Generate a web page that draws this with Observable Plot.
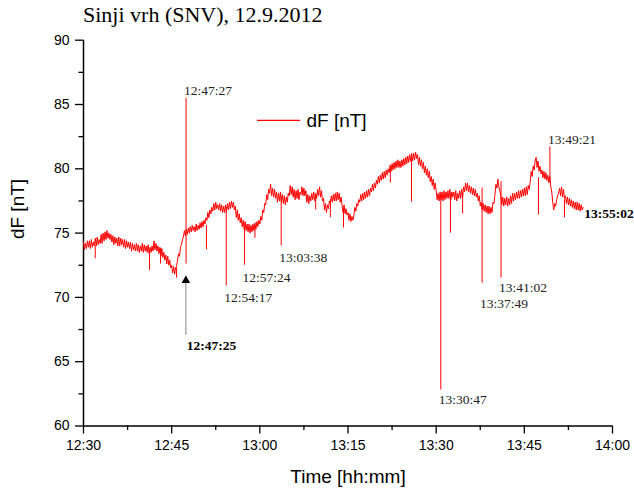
<!DOCTYPE html>
<html><head><meta charset="utf-8">
<script src="https://cdn.jsdelivr.net/npm/d3@7"></script>
<script src="https://cdn.jsdelivr.net/npm/@observablehq/plot@0.6"></script>
<style>
body{margin:0;background:#fff;}
#title{font-family:"Liberation Serif",serif;font-size:22px;height:30px;line-height:30px;padding-left:83px;white-space:nowrap;color:#000;}
#chart{height:459px;}
</style></head><body>
<div id="title">Sinji vrh (SNV), 12.9.2012</div>
<div id="chart"></div>
<script>
// ---- data ----
const seriesStart = "12:30:00";
const sampleStepSeconds = 10;
const dF = [
 74.3,73.7,74.2,73.8,74.4,73.9, 74.4,73.8,74.5,73.9,74.3,74.0, 74.6,74.0,74.7,74.1,74.5,74.2,
 74.9,74.2,75.0,74.4,75.1,74.5, 75.2,74.6,75.0,74.5,74.9,74.3, 74.8,74.1,74.7,74.2,74.6,74.0,
 74.7,74.0,74.6,74.1,74.5,73.9, 74.5,73.8,74.4,73.9,74.3,73.8, 74.3,73.6,74.2,73.7,74.1,73.6,
 74.2,73.6,74.1,73.5,74.0,73.6, 74.2,73.5,74.1,73.6,74.0,73.5, 74.1,73.4,73.9,73.5,74.0,73.6,
 74.4,73.7,74.2,73.6,74.0,73.4, 73.9,73.2,73.8,73.1,73.5,72.9, 73.3,72.6,73.2,72.5,72.9,72.3,
 72.5,71.9,72.4,71.8,72.3,72.4, 72.9,73.4,73.2,73.9,74.1,74.5, 74.7,75.2,74.8,75.3,74.9,75.4,
 75.0,75.5,75.1,75.6,75.2,75.5, 75.1,75.7,75.2,75.6,75.3,75.8, 75.4,75.9,75.5,76.0,75.7,76.2,
 76.0,76.6,76.2,76.8,76.5,77.0, 76.7,77.3,76.8,77.4,76.9,77.2, 76.8,77.3,76.7,77.2,76.6,77.1,
 76.6,77.2,76.7,77.3,76.8,77.4, 76.9,77.5,77.0,77.4,76.8,77.1, 76.2,76.8,76.0,76.5,75.8,76.2,
 75.5,76.0,75.3,75.9,75.2,75.7, 75.1,75.7,75.0,75.6,75.1,75.7, 75.2,75.8,75.3,75.9,75.5,76.0,
 75.7,76.3,76.0,76.8,76.6,77.3, 77.2,78.0,77.6,78.4,78.1,78.8, 77.9,78.5,77.8,78.4,77.7,78.2,
 77.4,78.1,77.5,78.2,77.4,78.0, 77.3,77.9,77.2,77.8,77.4,78.1, 77.9,78.7,78.0,78.6,77.8,78.4,
 77.6,78.3,77.7,78.4,77.6,78.2, 78.0,78.6,77.9,78.5,77.9,78.3, 77.4,78.0,77.3,77.9,77.5,78.1,
 77.6,78.2,77.5,78.1,77.7,78.4, 77.9,78.6,77.8,78.3,77.5,77.7, 76.8,77.3,76.6,77.2,76.9,77.5,
 77.3,77.9,77.4,78.0,77.5,78.1, 77.5,78.2,77.6,78.1,77.4,77.8, 77.1,76.6,77.2,76.5,76.9,76.4,
 76.6,76.0,76.5,75.9,76.3,76.0, 76.4,77.0,76.7,77.3,77.1,77.6, 77.4,78.0,77.5,78.1,77.6,78.2,
 77.7,78.3,77.8,78.4,77.9,78.5, 78.2,78.8,78.3,78.9,78.5,79.1, 78.8,79.4,78.9,79.5,79.1,79.7,
 79.2,79.8,79.3,79.9,79.5,80.0, 79.7,80.3,79.8,80.4,79.9,80.5, 80.0,80.6,80.1,80.7,80.1,80.6,
 80.1,80.7,80.2,80.8,80.3,80.9, 80.4,81.0,80.5,81.1,80.6,81.2, 80.6,81.2,80.7,81.3,80.8,81.1,
 80.3,80.9,80.2,80.7,80.0,80.5, 79.7,80.2,79.5,80.0,79.3,79.8, 79.0,79.4,78.7,79.2,78.4,78.9,
 78.3,77.6,78.1,77.5,78.2,77.6, 78.2,77.5,78.3,77.6,78.2,77.7, 78.3,77.7,78.4,77.6,78.2,77.8,
 78.2,77.6,78.3,77.5,78.1,77.7, 78.3,77.7,78.4,77.8,78.6,78.2, 78.9,78.3,78.9,78.2,78.7,78.1,
 78.6,78.0,78.5,77.9,78.4,77.8, 78.1,77.5,77.9,77.1,77.4,76.8, 77.3,76.7,77.2,76.6,77.1,76.5,
 77.1,76.5,77.0,76.6,77.4,77.3, 78.0,78.8,78.5,79.2,78.6,78.3, 77.9,77.2,77.8,77.1,77.7,77.2,
 77.8,77.1,77.7,77.2,77.9,77.3, 78.1,77.5,78.1,77.6,78.2,77.7, 78.3,77.7,78.3,77.8,78.4,77.9,
 78.5,77.9,78.6,78.0,78.7,78.4, 79.0,79.8,79.4,80.2,79.9,80.6, 80.9,80.1,80.6,79.8,80.2,79.6,
 79.9,79.3,79.8,79.2,79.7,79.1, 79.5,78.9,79.4,78.6,78.2,77.4, 76.8,77.3,77.1,77.6,77.9,78.1,
 78.5,77.9,78.6,77.8,78.4,77.7, 77.9,77.3,77.8,77.2,77.7,77.1, 77.6,77.0,77.5,76.9,77.4,76.8,
 77.4,76.8,77.3,76.7,77.2,76.8,
 77.0
];
const spikeTimes = ["12:32:00","12:41:14","12:43:06","12:45:50","12:47:27","12:50:55","12:54:17","12:57:24","12:59:10","13:03:38","13:09:30","13:12:00","13:14:14","13:22:12","13:25:48","13:30:47","13:32:26","13:34:30","13:37:49","13:41:02","13:47:24","13:49:21","13:51:50"];
const spikeBase  = [74.0, 73.7, 73.8, 72.3, 72.6, 75.6, 77.0, 75.5, 75.4, 77.8, 78.0, 77.6, 76.8, 80.0, 80.8, 78.0, 78.0, 78.0, 78.5, 79.0, 79.3, 79.0, 77.6];
const spikePeak  = [73.0, 72.1, 72.6, 71.5, 85.5, 73.7, 70.9, 72.5, 74.6, 74.0, 76.8, 76.2, 75.4, 78.9, 77.4, 62.8, 75.0, 76.5, 71.1, 71.5, 76.4, 81.7, 76.2];

const labelTimes = ["12:47:27","12:54:17","12:57:24","13:03:38","13:30:47","13:37:49","13:41:02","13:49:21"];
const labelY     = [86.09, 69.99, 71.55, 73.10, 62.06, 69.53, 70.77, 82.28];
const boldTimes  = ["12:47:25","13:55:02"];
const boldY      = [66.22, 76.52];
const arrowTime  = "12:47:25";
const arrowFrom  = 67.04;
const arrowTo    = 71.55;

const legendText = "dF [nT]";
const legendLineTimes = ["12:59:36","13:06:55"];
const legendTextTime = "13:07:56";
const legendY = 83.76;

const xDomain = ["12:30","14:00"];
const yDomain = [60, 90];
const yMajorTicks = [60, 65, 70, 75, 80, 85, 90];
const yMinorTicks = [62.5, 67.5, 72.5, 77.5, 82.5, 87.5];
const xMajorTicks = ["12:30","12:45","13:00","13:15","13:30","13:45","14:00"];
const xMinorTicks = ["12:37:30","12:52:30","13:07:30","13:22:30","13:37:30","13:52:30"];

// ---- helpers ----
const T = s => { const [h, m, sec = 0] = s.split(":").map(Number); return new Date(Date.UTC(2012, 8, 12, h, m, sec)); };
const t0 = T(seriesStart).getTime();
const series = dF.map((v, i) => ({time: new Date(t0 + i * sampleStepSeconds * 1000), value: v}));
const spikes = spikeTimes.map((s, i) => ({time: T(s), base: spikeBase[i], peak: spikePeak[i]}));
const labels = labelTimes.map((s, i) => ({time: T(s), y: labelY[i], text: s}));
const bolds = boldTimes.map((s, i) => ({time: T(s), y: boldY[i], text: s}));
const arrow = [{time: T(arrowTime), y1: arrowFrom, y2: arrowTo}];
const legend = [{t1: T(legendLineTimes[0]), t2: T(legendLineTimes[1]), tt: T(legendTextTime), y: legendY, text: legendText}];

const serif = "Liberation Serif, Times New Roman, serif";
const sans = "Liberation Sans, Arial, sans-serif";
const red = "#ff0000";
const fmt = d3.utcFormat("%H:%M");

const chart = Plot.plot({
  width: 634, height: 459,
  marginLeft: 83, marginRight: 22, marginTop: 9.7, marginBottom: 63.5,
  style: {fontFamily: sans, fontSize: "14px", color: "#000", background: "#fff"},
  x: {type: "utc", domain: xDomain.map(T)},
  y: {domain: yDomain},
  marks: [
    Plot.axisY(yMajorTicks, {tickSize: 8, tickPadding: 6, label: null, strokeWidth: 1.3, fontSize: 14}),
    Plot.axisY(yMinorTicks, {tickSize: 4.5, tickFormat: () => "", label: null, strokeWidth: 1.3}),
    Plot.axisX(xMajorTicks.map(T), {tickSize: 8, tickPadding: 6, label: null, tickFormat: fmt, strokeWidth: 1.3, fontSize: 14}),
    Plot.axisX(xMinorTicks.map(T), {tickSize: 4.5, tickFormat: () => "", label: null, strokeWidth: 1.3}),
    Plot.ruleX([T(xDomain[0])], {stroke: "#000", strokeWidth: 1.5}),
    Plot.ruleY([yDomain[0]], {stroke: "#000", strokeWidth: 1.5}),
    Plot.text(["dF [nT]"], {frameAnchor: "left", rotate: -90, dx: -66, dy: 6, fontSize: 19, fontFamily: sans, lineAnchor: "middle"}),
    Plot.text(["Time [hh:mm]"], {frameAnchor: "bottom", dy: 50.5, fontSize: 19, fontFamily: sans, lineAnchor: "middle"}),
    Plot.line(series, {x: "time", y: "value", stroke: red, strokeWidth: 1}),
    Plot.ruleX(spikes, {x: "time", y1: "base", y2: "peak", stroke: red, strokeWidth: 1}),
    Plot.ruleX(arrow, {x: "time", y1: "y1", y2: "y2", stroke: "#999", strokeWidth: 1.2}),
    Plot.dot(arrow, {x: "time", y: "y2", symbol: "triangle", r: 3.2, fill: "#000", stroke: "none", dy: 3}),
    Plot.text(labels, {x: "time", y: "y", text: "text", textAnchor: "start", lineAnchor: "middle", dx: -2, fontFamily: serif, fontSize: 13.5, fill: "#222"}),
    Plot.text(bolds, {x: "time", y: "y", text: "text", textAnchor: "start", lineAnchor: "middle", dx: 1, fontFamily: serif, fontSize: 13.5, fontWeight: "bold", fill: "#000"}),
    Plot.ruleY(legend, {y: "y", x1: "t1", x2: "t2", stroke: red, strokeWidth: 1.2}),
    Plot.text(legend, {x: "tt", y: "y", text: "text", textAnchor: "start", lineAnchor: "middle", fontFamily: sans, fontSize: 19})
  ]
});
document.getElementById("chart").appendChild(chart);
</script>
</body></html>
